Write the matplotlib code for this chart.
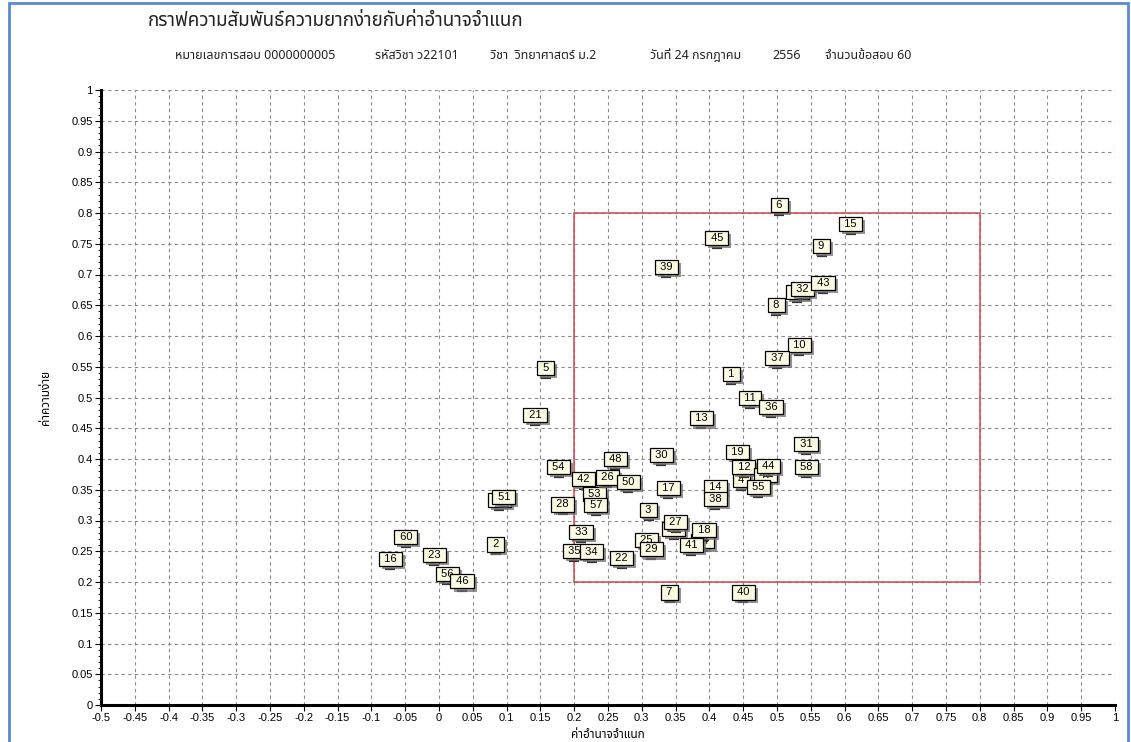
import matplotlib

matplotlib.use("Agg")
import matplotlib.pyplot as plt
from matplotlib import font_manager
from matplotlib import patheffects
from matplotlib.patches import Rectangle
from matplotlib.ticker import MultipleLocator, FuncFormatter

# item number, discrimination (x), difficulty (y) -- drawing order matters for overlaps
item_ids = [6, 15, 9, 45, 39, 59, 32, 43, 8, 10, 37, 1, 11, 36, 13, 5, 21,
            31, 58, 19, 4, 12, 47, 44, 55, 14, 38, 48, 30, 54, 42, 53, 26, 50,
            17, 57, 28, 52, 51, 3, 20, 27, 24, 18, 41, 33, 25, 29, 35, 34, 22,
            7, 40, 2, 60, 16, 23, 56, 46]
discrimination = [0.503, 0.609, 0.566, 0.411, 0.336, 0.530, 0.538, 0.568, 0.499,
                  0.533, 0.500, 0.432, 0.460, 0.491, 0.388, 0.158, 0.142,
                  0.543, 0.543, 0.442, 0.447, 0.451, 0.483, 0.487, 0.472, 0.409,
                  0.409, 0.261, 0.329, 0.177, 0.214, 0.230, 0.249, 0.280,
                  0.339, 0.232, 0.183, 0.089, 0.096, 0.310, 0.347, 0.350, 0.390,
                  0.392, 0.373, 0.210, 0.307, 0.314, 0.200, 0.226, 0.270,
                  0.341, 0.450, 0.084, -0.049, -0.072, -0.007, 0.012, 0.034]
difficulty = [0.797, 0.766, 0.730, 0.743, 0.696, 0.655, 0.660, 0.670, 0.634,
              0.569, 0.548, 0.522, 0.483, 0.468, 0.450, 0.532, 0.455,
              0.408, 0.371, 0.395, 0.350, 0.371, 0.358, 0.372, 0.338, 0.338,
              0.319, 0.384, 0.390, 0.371, 0.351, 0.327, 0.354, 0.346,
              0.337, 0.309, 0.310, 0.317, 0.322, 0.301, 0.270, 0.281, 0.250,
              0.268, 0.244, 0.265, 0.252, 0.237, 0.234, 0.233, 0.223,
              0.167, 0.167, 0.245, 0.257, 0.221, 0.228, 0.197, 0.185]

# acceptable region
good_x = (0.2, 0.8)
good_y = (0.2, 0.8)

title = "กราฟความสัมพันธ์ความยากง่ายกับค่าอำนาจจำแนก"
# header pieces and their left edge in pixels
header_parts = ["หมายเลขการสอบ 0000000005", "รหัสวิชา ว22101", "วิชา  วิทยาศาสตร์ ม.2",
                "วันที่ 24 กรกฎาคม", "2556", "จำนวนข้อสอบ 60"]
header_x = [175, 375, 490, 650, 772, 825]
x_label = "ค่าอำนาจจำแนก"
y_label = "ค่าความง่าย"


def pick_font(candidates, fallback="DejaVu Sans"):
    names = {f.name for f in font_manager.fontManager.ttflist}
    for name in candidates:
        if name in names:
            return name
    return fallback


thai_font = pick_font(["Noto Sans Thai", "Sarabun", "Bai Jamjuree", "Athiti"])
num_font = pick_font(["Liberation Sans Narrow", "Liberation Sans"])

W, H = 1131, 742
fig = plt.figure(figsize=(W / 100, H / 100), dpi=100)
ax = fig.add_axes([101 / W, 1 - 705 / H, (1115 - 101) / W, (705 - 90) / H])

ax.set_xlim(-0.5, 1.0)
ax.set_ylim(0, 1.0)
ax.xaxis.set_major_locator(MultipleLocator(0.05))
ax.yaxis.set_major_locator(MultipleLocator(0.05))
ax.yaxis.set_minor_locator(MultipleLocator(0.01))
fmt = FuncFormatter(lambda v, p: "%g" % round(v, 2))
ax.xaxis.set_major_formatter(fmt)
ax.yaxis.set_major_formatter(fmt)
ax.grid(True, which="major", color="#8a8a8a", linestyle=(0, (3, 3)), linewidth=0.8)
ax.set_axisbelow(True)
for side in ("top", "right"):
    ax.spines[side].set_visible(False)
for side in ("left", "bottom"):
    ax.spines[side].set_linewidth(2.2)
    ax.spines[side].set_color("black")
ax.tick_params(axis="both", which="major", length=4, width=0.8, labelsize=8, pad=2)
ax.tick_params(axis="y", which="minor", length=2, width=0.6)
for lbl in ax.get_xticklabels() + ax.get_yticklabels():
    lbl.set_fontfamily(num_font)

ax.add_patch(Rectangle((good_x[0], good_y[0]), good_x[1] - good_x[0],
                       good_y[1] - good_y[0], fill=False, edgecolor="#d0474a",
                       linewidth=1.1, zorder=2))

shadow = [patheffects.withSimplePatchShadow(offset=(2.2, -2.2), shadow_rgbFace="#707070",
                                            alpha=0.75)]
z = 3
for item, x, y in zip(item_ids, discrimination, difficulty):
    ax.plot([x], [y], marker="_", markersize=7, mew=1.6, color="#333333", zorder=z)
    ann = ax.annotate(" %d " % item, (x, y), xytext=(0, 7.2), textcoords="offset points",
                      ha="center", va="center", fontsize=8, color="black",
                      family=num_font,
                      bbox=dict(boxstyle="square,pad=0.2", fc="#fbfbe4", ec="black",
                                lw=0.9),
                      zorder=z + 1)
    ann.get_bbox_patch().set_path_effects(shadow)
    z += 2

ax.set_xlabel(x_label, family=thai_font, fontsize=8.5, labelpad=3)
ax.set_ylabel(y_label, family=thai_font, fontsize=8.5, labelpad=14)

fig.text(148 / W, 1 - 21 / H, title, family=thai_font, fontsize=13.5, va="center",
         ha="left", color="#222222")
for part, px in zip(header_parts, header_x):
    fig.text(px / W, 1 - 59 / H, part, family=thai_font, fontsize=9, va="baseline",
             ha="left", color="#222222")

# blue frame around the whole picture
fig.add_artist(Rectangle((9 / W, -0.01), (1128 - 9) / W, 1 - 3 / H + 0.01,
                         transform=fig.transFigure, fill=False,
                         edgecolor="#5b8bd0", linewidth=2))

fig.savefig("out.png", dpi=100)
plt.close(fig)
